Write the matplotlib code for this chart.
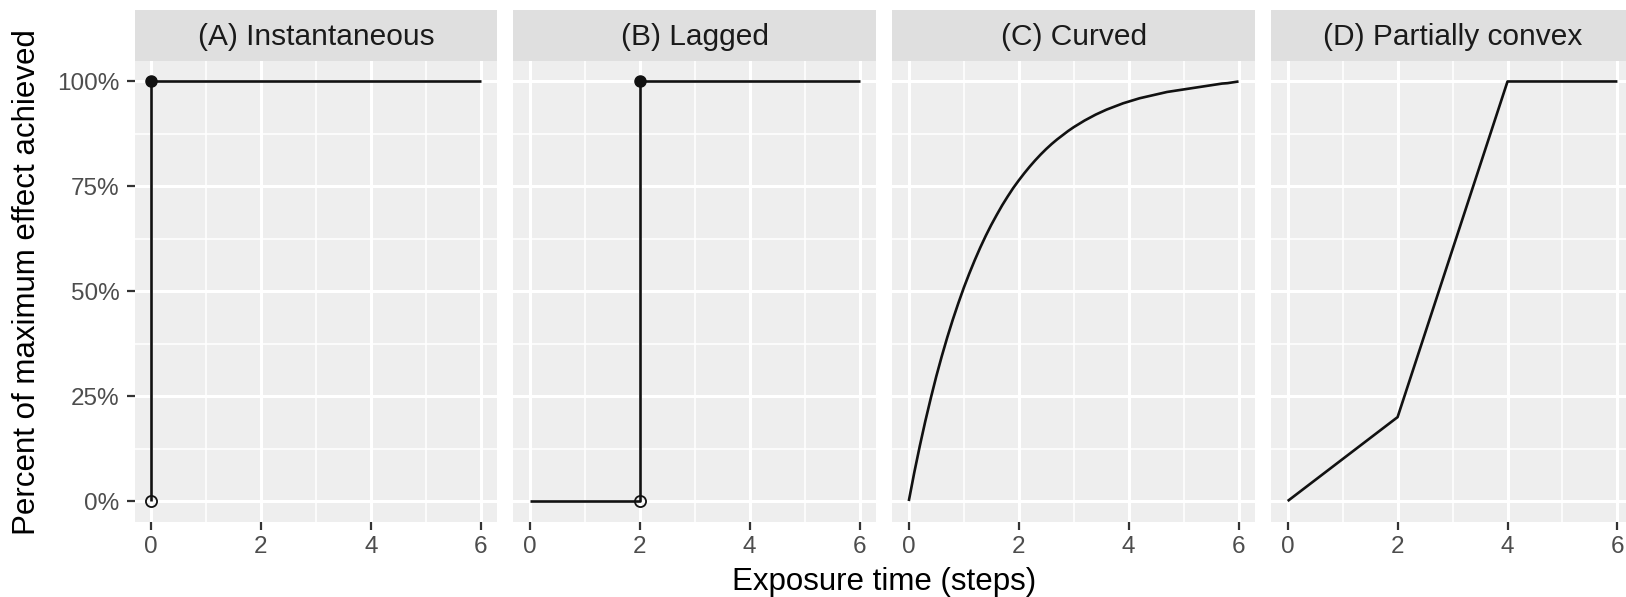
import matplotlib
matplotlib.use("Agg")
import matplotlib.pyplot as plt
from matplotlib.ticker import FuncFormatter, MultipleLocator

plt.rcParams['font.family'] = ['Liberation Sans', 'DejaVu Sans']

# --- data ---
titles = ["(A) Instantaneous", "(B) Lagged", "(C) Curved", "(D) Partially convex"]

x_a = [0, 0, 6]
y_a = [0, 1, 1]
open_a = (0, 0)
filled_a = (0, 1)

x_b = [0, 2, 2, 6]
y_b = [0, 0, 1, 1]
open_b = (2, 0)
filled_b = (2, 1)

# curve C, read every 0.1 step
x_c = [0.0, 0.1, 0.2, 0.3, 0.4, 0.5, 0.6, 0.7, 0.8, 0.9,
       1.0, 1.1, 1.2, 1.3, 1.4, 1.5, 1.6, 1.7, 1.8, 1.9,
       2.0, 2.1, 2.2, 2.3, 2.4, 2.5, 2.6, 2.7, 2.8, 2.9,
       3.0, 3.1, 3.2, 3.3, 3.4, 3.5, 3.6, 3.7, 3.8, 3.9,
       4.0, 4.1, 4.2, 4.3, 4.4, 4.5, 4.6, 4.7, 4.8, 4.9,
       5.0, 5.1, 5.2, 5.3, 5.4, 5.5, 5.6, 5.7, 5.8, 5.9, 6.0]
y_c = [0.000, 0.068, 0.131, 0.190, 0.245, 0.297, 0.345, 0.390, 0.432, 0.471,
       0.508, 0.542, 0.574, 0.604, 0.632, 0.658, 0.682, 0.705, 0.726, 0.746,
       0.764, 0.781, 0.797, 0.812, 0.826, 0.839, 0.851, 0.862, 0.872, 0.882,
       0.891, 0.899, 0.907, 0.914, 0.921, 0.927, 0.933, 0.938, 0.943, 0.948,
       0.952, 0.956, 0.960, 0.963, 0.966, 0.969, 0.972, 0.975, 0.977, 0.979,
       0.981, 0.983, 0.985, 0.987, 0.989, 0.991, 0.993, 0.995, 0.996, 0.998, 1.000]

x_d = [0, 2, 4, 6]
y_d = [0, 0.2, 1, 1]

x_ticks = [0, 2, 4, 6]
y_ticks = [0, 0.25, 0.5, 0.75, 1.0]

lines = [(x_a, y_a), (x_b, y_b), (x_c, y_c), (x_d, y_d)]
points = [(open_a, filled_a), (open_b, filled_b), None, None]

# --- layout (pixels of a 1626x597 canvas) ---
W, H = 1626, 597
fig = plt.figure(figsize=(W / 100, H / 100), dpi=100)

panel_w = 362.7
lefts = [134.5 + i * 378.9 for i in range(4)]
panel_top, panel_bot = 60.5, 522.0
strip_top = 10.0

panel_bg = "#EEEEEE"
strip_bg = "#DFDFDF"

for i in range(4):
    l = lefts[i] / W
    ax = fig.add_axes([l, (H - panel_bot) / H, panel_w / W, (panel_bot - panel_top) / H])
    ax.set_facecolor(panel_bg)
    for s in ax.spines.values():
        s.set_visible(False)

    ax.set_xlim(-0.3, 6.3)
    ax.set_ylim(-0.05, 1.05)
    ax.set_xticks(x_ticks)
    ax.set_yticks(y_ticks)
    ax.xaxis.set_minor_locator(MultipleLocator(1))
    ax.yaxis.set_minor_locator(MultipleLocator(0.125))
    ax.grid(True, which='major', color='white', linewidth=2.2)
    ax.grid(True, which='minor', color='white', linewidth=1.1)
    ax.set_axisbelow(True)

    ax.tick_params(axis='both', which='major', length=5.8, width=1.6, color='#333333',
                   labelsize=17.5, labelcolor='#4D4D4D')
    ax.tick_params(axis='x', pad=4)
    ax.tick_params(axis='y', pad=5)
    ax.tick_params(which='minor', length=0)
    if i == 0:
        ax.yaxis.set_major_formatter(FuncFormatter(lambda v, p: f"{v * 100:.0f}%"))
    else:
        ax.tick_params(axis='y', length=0, labelleft=False)

    xs, ys = lines[i]
    ax.plot(xs, ys, color='#111111', linewidth=1.9, solid_capstyle='butt',
            solid_joinstyle='round')
    if points[i] is not None:
        op, fp = points[i]
        ax.plot([op[0]], [op[1]], marker='o', markersize=8, markerfacecolor='none',
                markeredgecolor='#111111', markeredgewidth=1.3, linestyle='none')
        ax.plot([fp[0]], [fp[1]], marker='o', markersize=8, color='#111111', linestyle='none')

    # facet strip
    sax = fig.add_axes([l, (H - panel_top) / H, panel_w / W, (panel_top - strip_top) / H])
    sax.set_facecolor(strip_bg)
    sax.set_xticks([])
    sax.set_yticks([])
    for s in sax.spines.values():
        s.set_visible(False)
    sax.text(0.5, 0.47, titles[i], ha='center', va='center', fontsize=21.5,
             color='#1A1A1A', transform=sax.transAxes)

# shared axis titles
fig.text(884 / W, 7 / H, "Exposure time (steps)", ha='center', va='baseline', fontsize=22.5)
fig.text(35 / W, (H - 282) / H, "Percent of maximum effect achieved", rotation=90,
         rotation_mode='anchor', ha='center', va='baseline', fontsize=22.5)

fig.savefig("out.png", dpi=100)
